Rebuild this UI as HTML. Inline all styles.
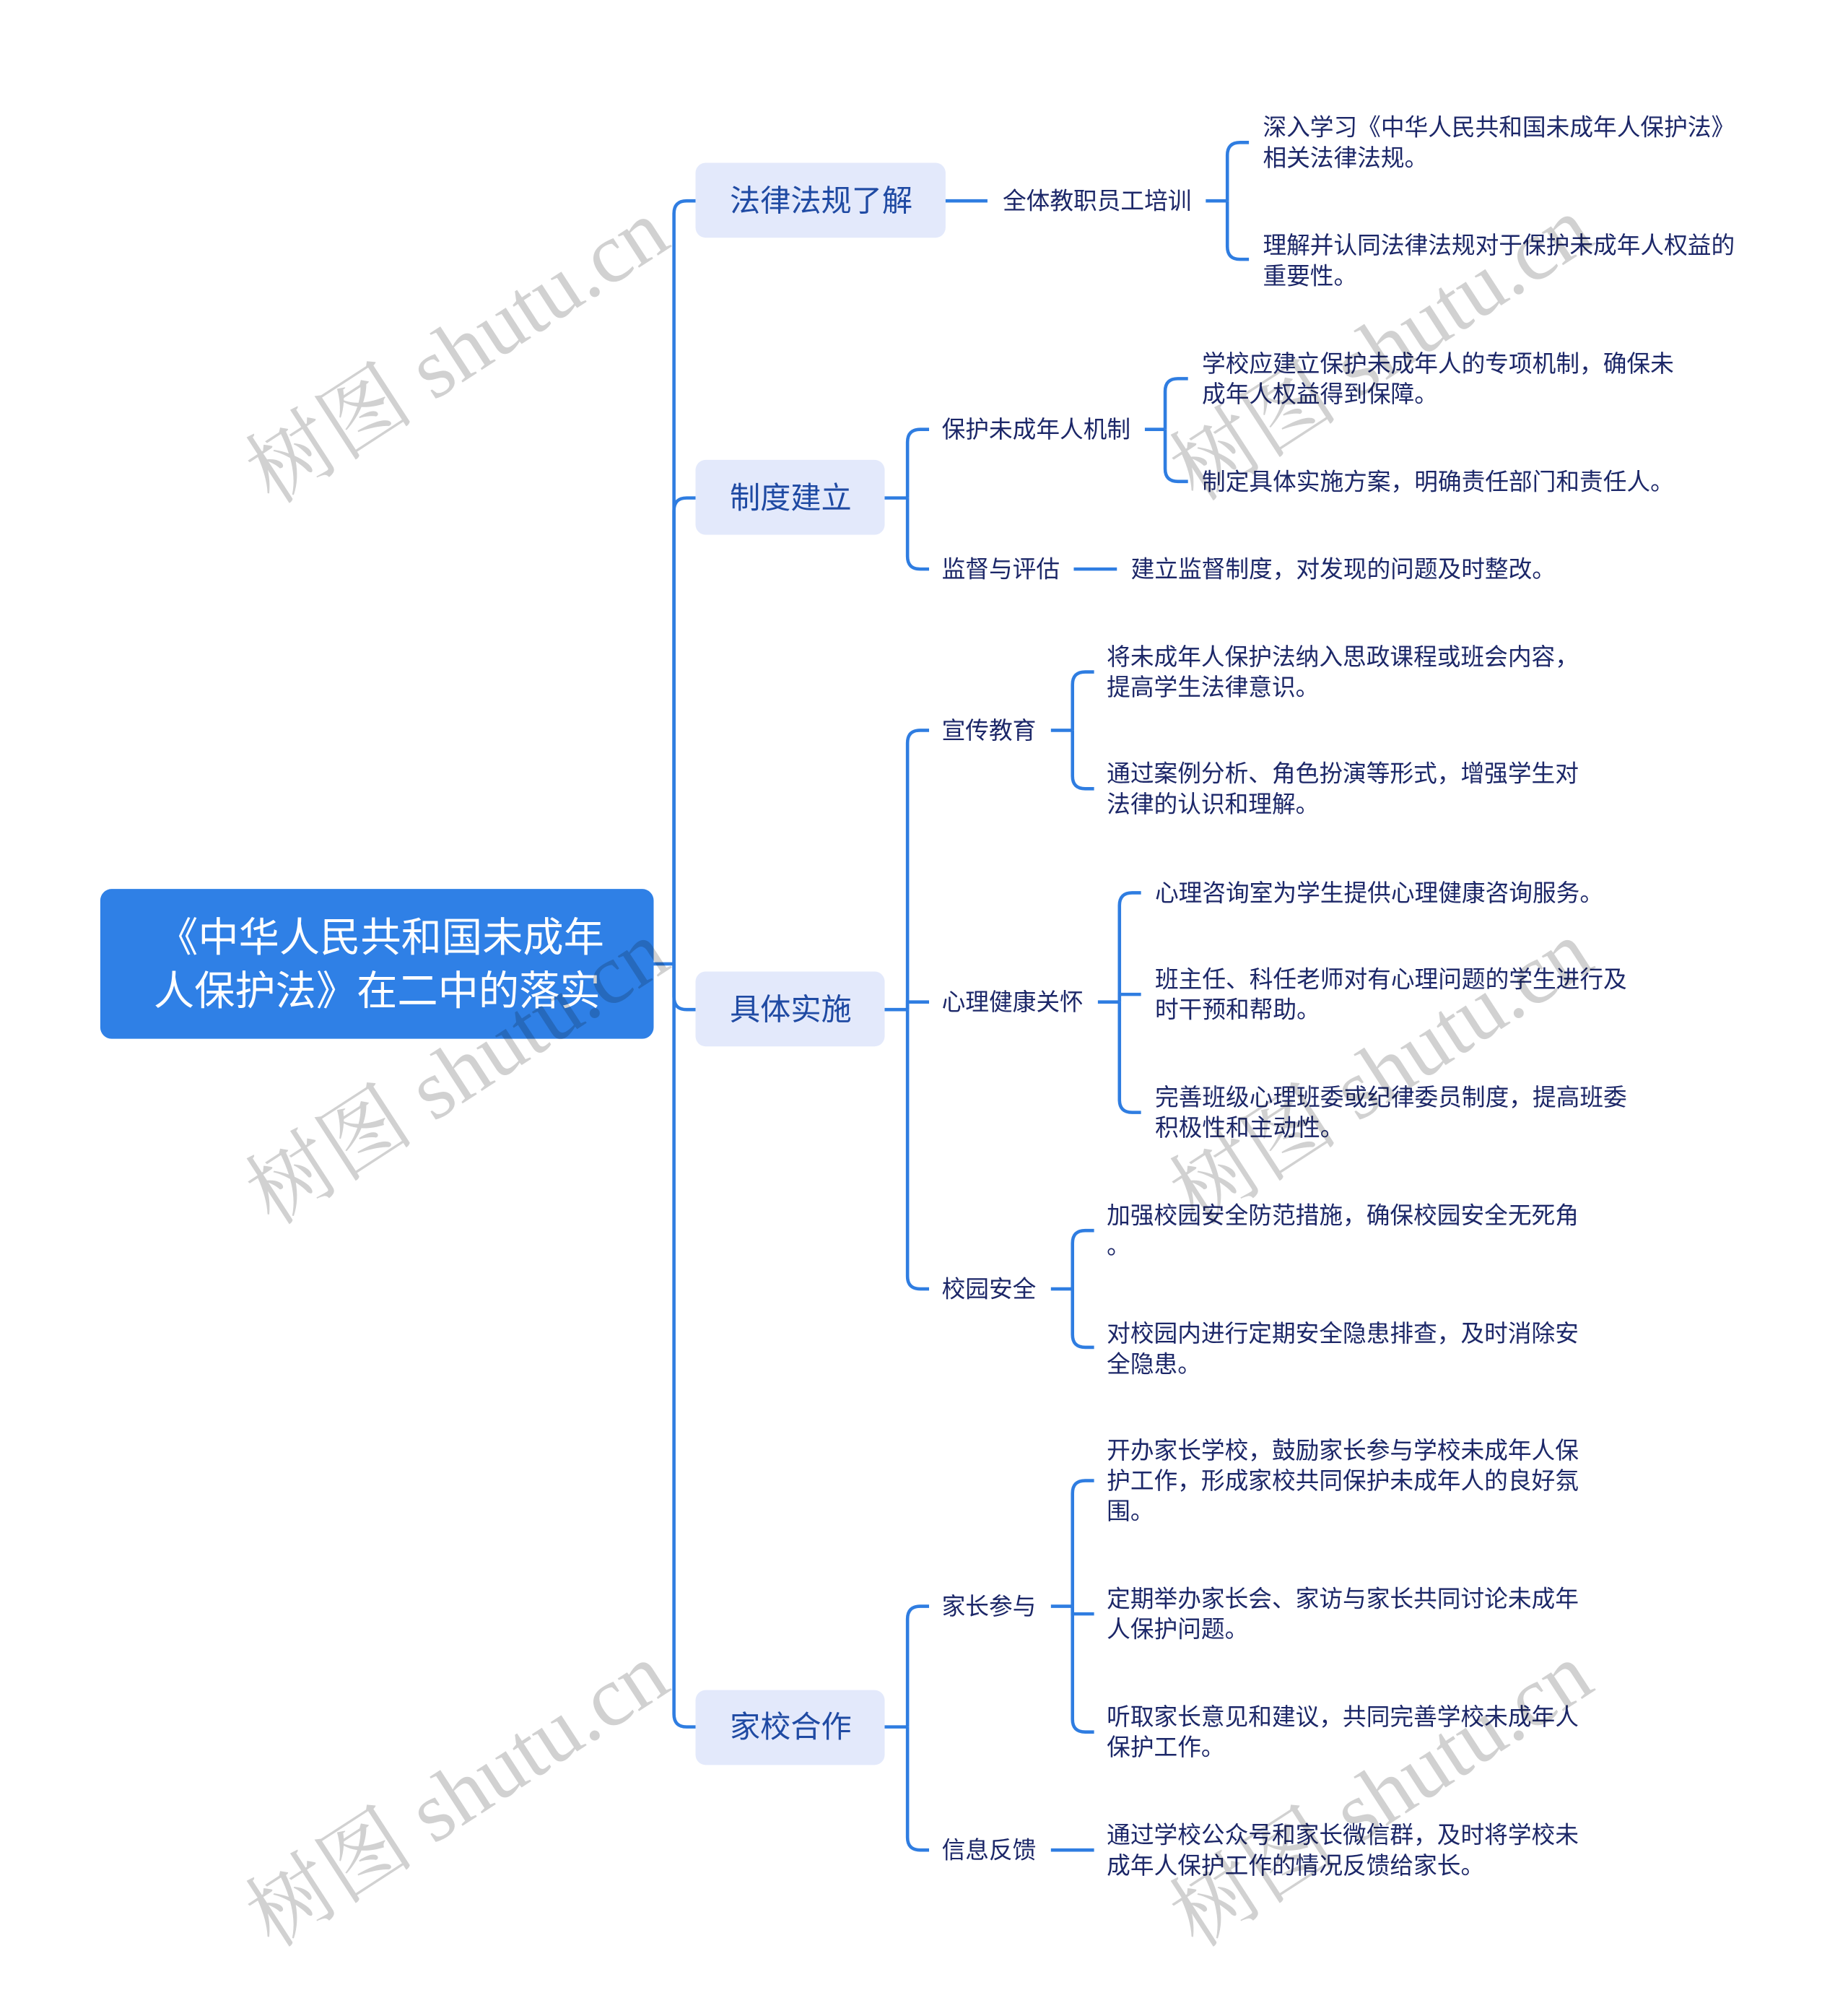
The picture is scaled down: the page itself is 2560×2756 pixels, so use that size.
<!DOCTYPE html>
<html><head><meta charset="utf-8"><style>
html,body{margin:0;padding:0;background:#fff;}
svg{display:block;}
text{font-family:"Liberation Sans","Noto Sans CJK SC",sans-serif;}
.t{font-size:18.6px;fill:#1c2768;}
.l1{font-size:24px;fill:#1f4aa3;}
.wm{font-family:"Liberation Serif","Noto Serif CJK SC",serif;font-size:67px;fill:#000;fill-opacity:0.18;}
path.c{fill:none;stroke:#2f7de1;stroke-width:2.6;}
</style></head><body>
<svg width="2560" height="2756" viewBox="0 0 1456 1567" xmlns="http://www.w3.org/2000/svg">
<!-- root -->
<rect x="79" y="700" width="436" height="118" rx="9" fill="#2f80e6"/>
<text x="300" y="738" text-anchor="middle" dominant-baseline="central" font-size="32" fill="#fff">《中华人民共和国未成年</text>
<text x="297" y="780" text-anchor="middle" dominant-baseline="central" font-size="32" fill="#fff">人保护法》在二中的落实</text>

<!-- trunk -->
<path class="c" d="M515,759 L531,759"/>
<path class="c" d="M531,759 L531,168 Q531,158 541,158 L548,158"/>
<path class="c" d="M531,759 L531,402 Q531,392 541,392 L548,392"/>
<path class="c" d="M531,759 L531,785 Q531,795 541,795 L548,795"/>
<path class="c" d="M531,759 L531,1350 Q531,1360 541,1360 L548,1360"/>

<!-- L1 boxes -->
<rect x="548" y="128" width="197" height="59" rx="8" fill="#e3e9fb"/>
<text class="l1" x="575" y="158" dominant-baseline="central">法律法规了解</text>
<rect x="548" y="362" width="149" height="59" rx="8" fill="#e3e9fb"/>
<text class="l1" x="575" y="392" dominant-baseline="central">制度建立</text>
<rect x="548" y="765" width="149" height="59" rx="8" fill="#e3e9fb"/>
<text class="l1" x="575" y="795" dominant-baseline="central">具体实施</text>
<rect x="548" y="1331" width="149" height="59" rx="8" fill="#e3e9fb"/>
<text class="l1" x="575" y="1360" dominant-baseline="central">家校合作</text>

<!-- 法律法规了解 -->
<path class="c" d="M745,158 L778,158"/>
<text class="t" x="790" y="158" dominant-baseline="central">全体教职员工培训</text>
<path class="c" d="M950,158 L967,158"/>
<path class="c" d="M967,158 L967,122 Q967,112 977,112 L984,112"/>
<path class="c" d="M967,158 L967,194 Q967,204 977,204 L984,204"/>
<text class="t" x="995" y="100" dominant-baseline="central">深入学习《中华人民共和国未成年人保护法》</text>
<text class="t" x="995" y="124" dominant-baseline="central">相关法律法规。</text>
<text class="t" x="995" y="193" dominant-baseline="central">理解并认同法律法规对于保护未成年人权益的</text>
<text class="t" x="995" y="217" dominant-baseline="central">重要性。</text>

<!-- 制度建立 -->
<path class="c" d="M697,392 L715,392"/>
<path class="c" d="M715,392 L715,348 Q715,338 725,338 L732,338"/>
<path class="c" d="M715,392 L715,438 Q715,448 725,448 L732,448"/>
<text class="t" x="742" y="338" dominant-baseline="central">保护未成年人机制</text>
<text class="t" x="742" y="448" dominant-baseline="central">监督与评估</text>
<path class="c" d="M902,338 L918,338"/>
<path class="c" d="M918,338 L918,308 Q918,298 928,298 L936,298"/>
<path class="c" d="M918,338 L918,369 Q918,379 928,379 L936,379"/>
<text class="t" x="947" y="286" dominant-baseline="central">学校应建立保护未成年人的专项机制，确保未</text>
<text class="t" x="947" y="310" dominant-baseline="central">成年人权益得到保障。</text>
<text class="t" x="947" y="379" dominant-baseline="central">制定具体实施方案，明确责任部门和责任人。</text>
<path class="c" d="M846,448 L880,448"/>
<text class="t" x="891" y="448" dominant-baseline="central">建立监督制度，对发现的问题及时整改。</text>

<!-- 具体实施 -->
<path class="c" d="M697,795 L715,795"/>
<path class="c" d="M715,795 L715,585 Q715,575 725,575 L732,575"/>
<path class="c" d="M715,795 L715,789 L732,789"/>
<path class="c" d="M715,795 L715,1005 Q715,1015 725,1015 L732,1015"/>
<text class="t" x="742" y="575" dominant-baseline="central">宣传教育</text>
<text class="t" x="742" y="789" dominant-baseline="central">心理健康关怀</text>
<text class="t" x="742" y="1015" dominant-baseline="central">校园安全</text>

<path class="c" d="M828,575 L845,575"/>
<path class="c" d="M845,575 L845,539 Q845,529 855,529 L862,529"/>
<path class="c" d="M845,575 L845,611 Q845,621 855,621 L862,621"/>
<text class="t" x="872" y="517" dominant-baseline="central">将未成年人保护法纳入思政课程或班会内容，</text>
<text class="t" x="872" y="541" dominant-baseline="central">提高学生法律意识。</text>
<text class="t" x="872" y="609" dominant-baseline="central">通过案例分析、角色扮演等形式，增强学生对</text>
<text class="t" x="872" y="633" dominant-baseline="central">法律的认识和理解。</text>

<path class="c" d="M865,789 L882,789"/>
<path class="c" d="M882,789 L882,713 Q882,703 892,703 L899,703"/>
<path class="c" d="M882,789 L882,783 L899,783"/>
<path class="c" d="M882,789 L882,866 Q882,876 892,876 L899,876"/>
<text class="t" x="910" y="703" dominant-baseline="central">心理咨询室为学生提供心理健康咨询服务。</text>
<text class="t" x="910" y="771" dominant-baseline="central">班主任、科任老师对有心理问题的学生进行及</text>
<text class="t" x="910" y="795" dominant-baseline="central">时干预和帮助。</text>
<text class="t" x="910" y="864" dominant-baseline="central">完善班级心理班委或纪律委员制度，提高班委</text>
<text class="t" x="910" y="888" dominant-baseline="central">积极性和主动性。</text>

<path class="c" d="M828,1015 L845,1015"/>
<path class="c" d="M845,1015 L845,979 Q845,969 855,969 L862,969"/>
<path class="c" d="M845,1015 L845,1051 Q845,1061 855,1061 L862,1061"/>
<text class="t" x="872" y="957" dominant-baseline="central">加强校园安全防范措施，确保校园安全无死角</text>
<text class="t" x="872" y="981" dominant-baseline="central">。</text>
<text class="t" x="872" y="1050" dominant-baseline="central">对校园内进行定期安全隐患排查，及时消除安</text>
<text class="t" x="872" y="1074" dominant-baseline="central">全隐患。</text>

<!-- 家校合作 -->
<path class="c" d="M697,1360 L715,1360"/>
<path class="c" d="M715,1360 L715,1275 Q715,1265 725,1265 L732,1265"/>
<path class="c" d="M715,1360 L715,1447 Q715,1457 725,1457 L732,1457"/>
<text class="t" x="742" y="1265" dominant-baseline="central">家长参与</text>
<text class="t" x="742" y="1457" dominant-baseline="central">信息反馈</text>

<path class="c" d="M828,1265 L845,1265"/>
<path class="c" d="M845,1265 L845,1176 Q845,1166 855,1166 L862,1166"/>
<path class="c" d="M845,1265 L845,1271 L862,1271"/>
<path class="c" d="M845,1265 L845,1354 Q845,1364 855,1364 L862,1364"/>
<text class="t" x="872" y="1142" dominant-baseline="central">开办家长学校，鼓励家长参与学校未成年人保</text>
<text class="t" x="872" y="1166" dominant-baseline="central">护工作，形成家校共同保护未成年人的良好氛</text>
<text class="t" x="872" y="1190" dominant-baseline="central">围。</text>
<text class="t" x="872" y="1259" dominant-baseline="central">定期举办家长会、家访与家长共同讨论未成年</text>
<text class="t" x="872" y="1283" dominant-baseline="central">人保护问题。</text>
<text class="t" x="872" y="1352" dominant-baseline="central">听取家长意见和建议，共同完善学校未成年人</text>
<text class="t" x="872" y="1376" dominant-baseline="central">保护工作。</text>

<path class="c" d="M828,1457 L862,1457"/>
<text class="t" x="872" y="1445" dominant-baseline="central">通过学校公众号和家长微信群，及时将学校未</text>
<text class="t" x="872" y="1469" dominant-baseline="central">成年人保护工作的情况反馈给家长。</text>

<!-- watermarks -->
<text class="wm" transform="translate(215,398) rotate(-33)">树图 shutu.cn</text>
<text class="wm" transform="translate(215,966) rotate(-33)">树图 shutu.cn</text>
<text class="wm" transform="translate(215,1535) rotate(-33)">树图 shutu.cn</text>
<text class="wm" transform="translate(943,396) rotate(-33)">树图 shutu.cn</text>
<text class="wm" transform="translate(943,966) rotate(-33)">树图 shutu.cn</text>
<text class="wm" transform="translate(943,1535) rotate(-33)">树图 shutu.cn</text>
</svg>
</body></html>
